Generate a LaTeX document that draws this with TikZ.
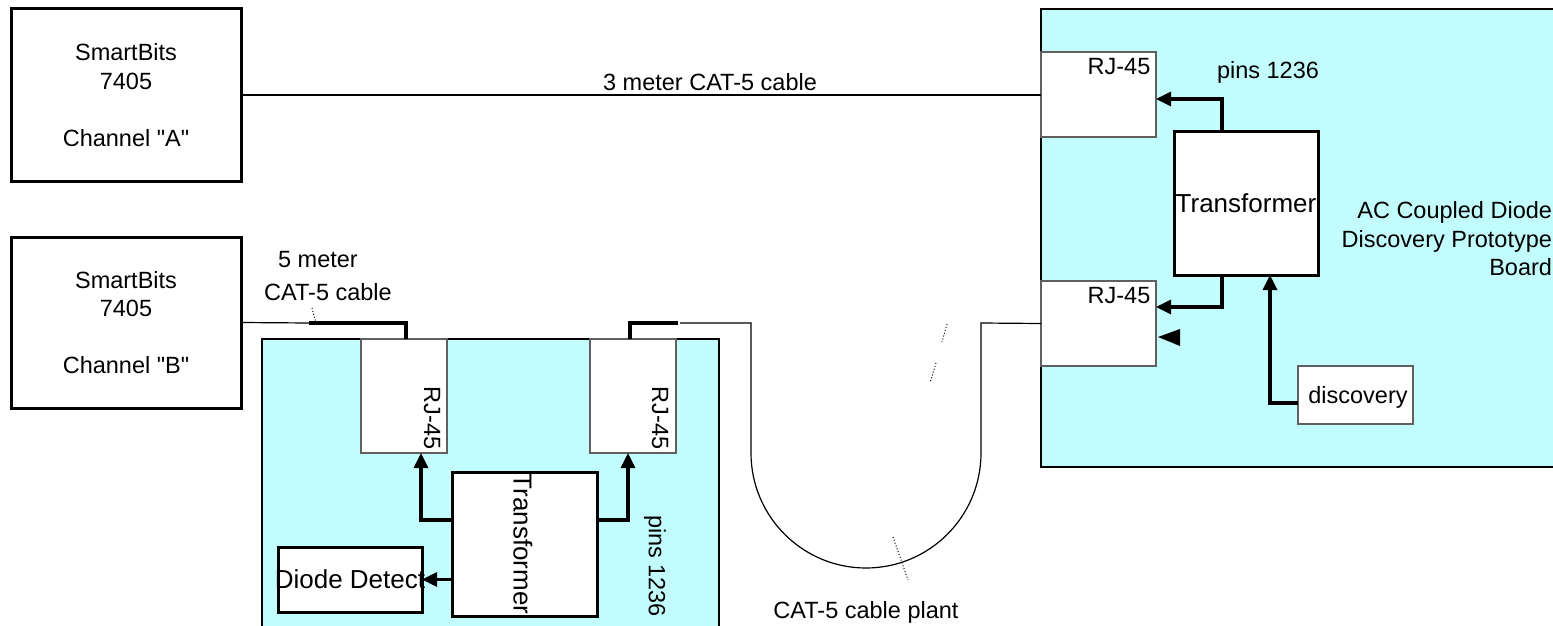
\documentclass[tikz,border=0pt]{standalone}
\usepackage{fontspec}
\setmainfont{Liberation Sans}[Ligatures=TeXOff]
\usetikzlibrary{arrows.meta}
\definecolor{boardcyan}{RGB}{194,252,252}
\definecolor{edgegray}{RGB}{96,96,96}
\newcommand\tfont{\fontsize{26}{30}\selectfont}
\begin{document}
\begin{tikzpicture}[x=1pt,y=-1pt,
 every node/.style={font=\fontsize{23.5}{28.5}\selectfont, inner sep=0pt, outer sep=0pt},
 bigbox/.style={draw=black, line width=3pt, fill=white},
 thinbox/.style={draw=edgegray, line width=1.2pt, fill=white},
 board/.style={draw=black, line width=1.2pt, fill=boardcyan},
 wire/.style={line width=1.2pt},
 thickwire/.style={line width=3.2pt},
 arr/.style={line width=3.2pt, -{Triangle[length=15pt,width=14pt]}},
 tick/.style={dotted, line width=1pt},
]
\useasboundingbox (0,0) rectangle (1553,626);
\clip (0,0) rectangle (1553,626);

% SmartBits boxes
\node[bigbox, minimum width=230pt, minimum height=172pt, align=center] (sbA) at (126,95)
  {SmartBits\\7405\\\mbox{}\\Channel "A"};
\node[bigbox, minimum width=230pt, minimum height=171pt, align=center] (sbB) at (126,322.5)
  {SmartBits\\7405\\\mbox{}\\Channel "B"};

% Right board
\node[board, anchor=north west, minimum width=529pt, minimum height=458pt] (boardR) at (1041,9) {};
\node[thinbox, minimum width=115pt, minimum height=85pt] (rjA) at (1098.5,94.5) {};
\node (rjAt) at (1119,67) {RJ-45};
\node[thinbox, minimum width=115pt, minimum height=85pt] (rjB) at (1098.5,323.5) {};
\node (rjBt) at (1119,296) {RJ-45};
\node[bigbox, minimum width=144pt, minimum height=144pt, font=\tfont] (tR) at (1246,203) {Transformer};
\node[thinbox, minimum width=115pt, minimum height=58pt] (disc) at (1355.5,395) {};
\node (disct) at (1358,397) {discovery};
\node (pinsR) at (1268,72) {pins 1236};
\node[align=right, anchor=east] (boardRt) at (1552,239) {AC Coupled Diode\\Discovery Prototype\\Board};

\draw[arr] ([xshift=48pt]tR.north west) |- ([yshift=-4.5pt]rjA.east);
\draw[arr] ([xshift=48pt]tR.south west) |- ([yshift=16.5pt]rjB.east);
\draw[arr] ([yshift=-8pt]disc.west) -| ([xshift=24pt]tR.south);
\fill (1158,337) -- (1180,329) -- (1180,346) -- cycle;

% Top cable
\draw[wire] (sbA.east) -- (sbA.east -| rjA.west);
\node (lblA) at (710,82) {3 meter CAT-5 cable};

% Left board
\node[board, anchor=north west, minimum width=457pt, minimum height=300pt] (boardL) at (262,339) {};
\node[thinbox, minimum width=86pt, minimum height=114pt] (rjL1) at (404,396) {};
\node[rotate=-90] (rjL1t) at (432,418) {RJ-45};
\node[thinbox, minimum width=86pt, minimum height=114pt] (rjL2) at (633,396) {};
\node[rotate=-90] (rjL2t) at (660,418) {RJ-45};
\node[bigbox, minimum width=145pt, minimum height=144pt] (tL) at (524.5,544) {};
\node[rotate=-90, font=\tfont] (tLt) at (523,544) {Transformer};
\node[bigbox, minimum width=144pt, minimum height=65pt] (dd) at (350,579.5) {};
\node[font=\tfont] (ddt) at (350,579) {Diode Detect};
\node[rotate=-90] (pinsL) at (655,566) {pins 1236};

\draw[arr] ([yshift=24pt]tL.west) -| ([xshift=17pt]rjL1.south);
\draw[arr] ([yshift=24pt]tL.east) -| ([xshift=-5pt]rjL2.south);
\draw[arr] (tL.west |- dd.east) -- (dd.east);

% Cable from SmartBits B
\coordinate (c1) at (309,323);
\draw[wire] (sbB.east) -- (c1);
\draw[thickwire] (c1) -| ([xshift=2pt]rjL1.north);
\draw[tick] (312,308) -- (316,323);
\node (lblB1) at (318,260) {5 meter};
\node (lblB2) at (328,292) {CAT-5 cable};

% Cable plant
\coordinate (c2) at (678,323);
\coordinate (c3) at (680,323);
\draw[thickwire] ([xshift=-3pt]rjL2.north) |- (c2);
\draw[wire] (c3) -- (751,323) -- (751,453) arc[start angle=180, end angle=360, radius=115pt] -- (981,323) -- (rjB.west);
\draw[tick] (893,537) -- (908,580);
\draw[tick] (947,324) -- (942,342);
\draw[tick] (936,363) -- (930,383);
\node (lblC) at (866,612) {CAT-5 cable plant};
\end{tikzpicture}
\end{document}
